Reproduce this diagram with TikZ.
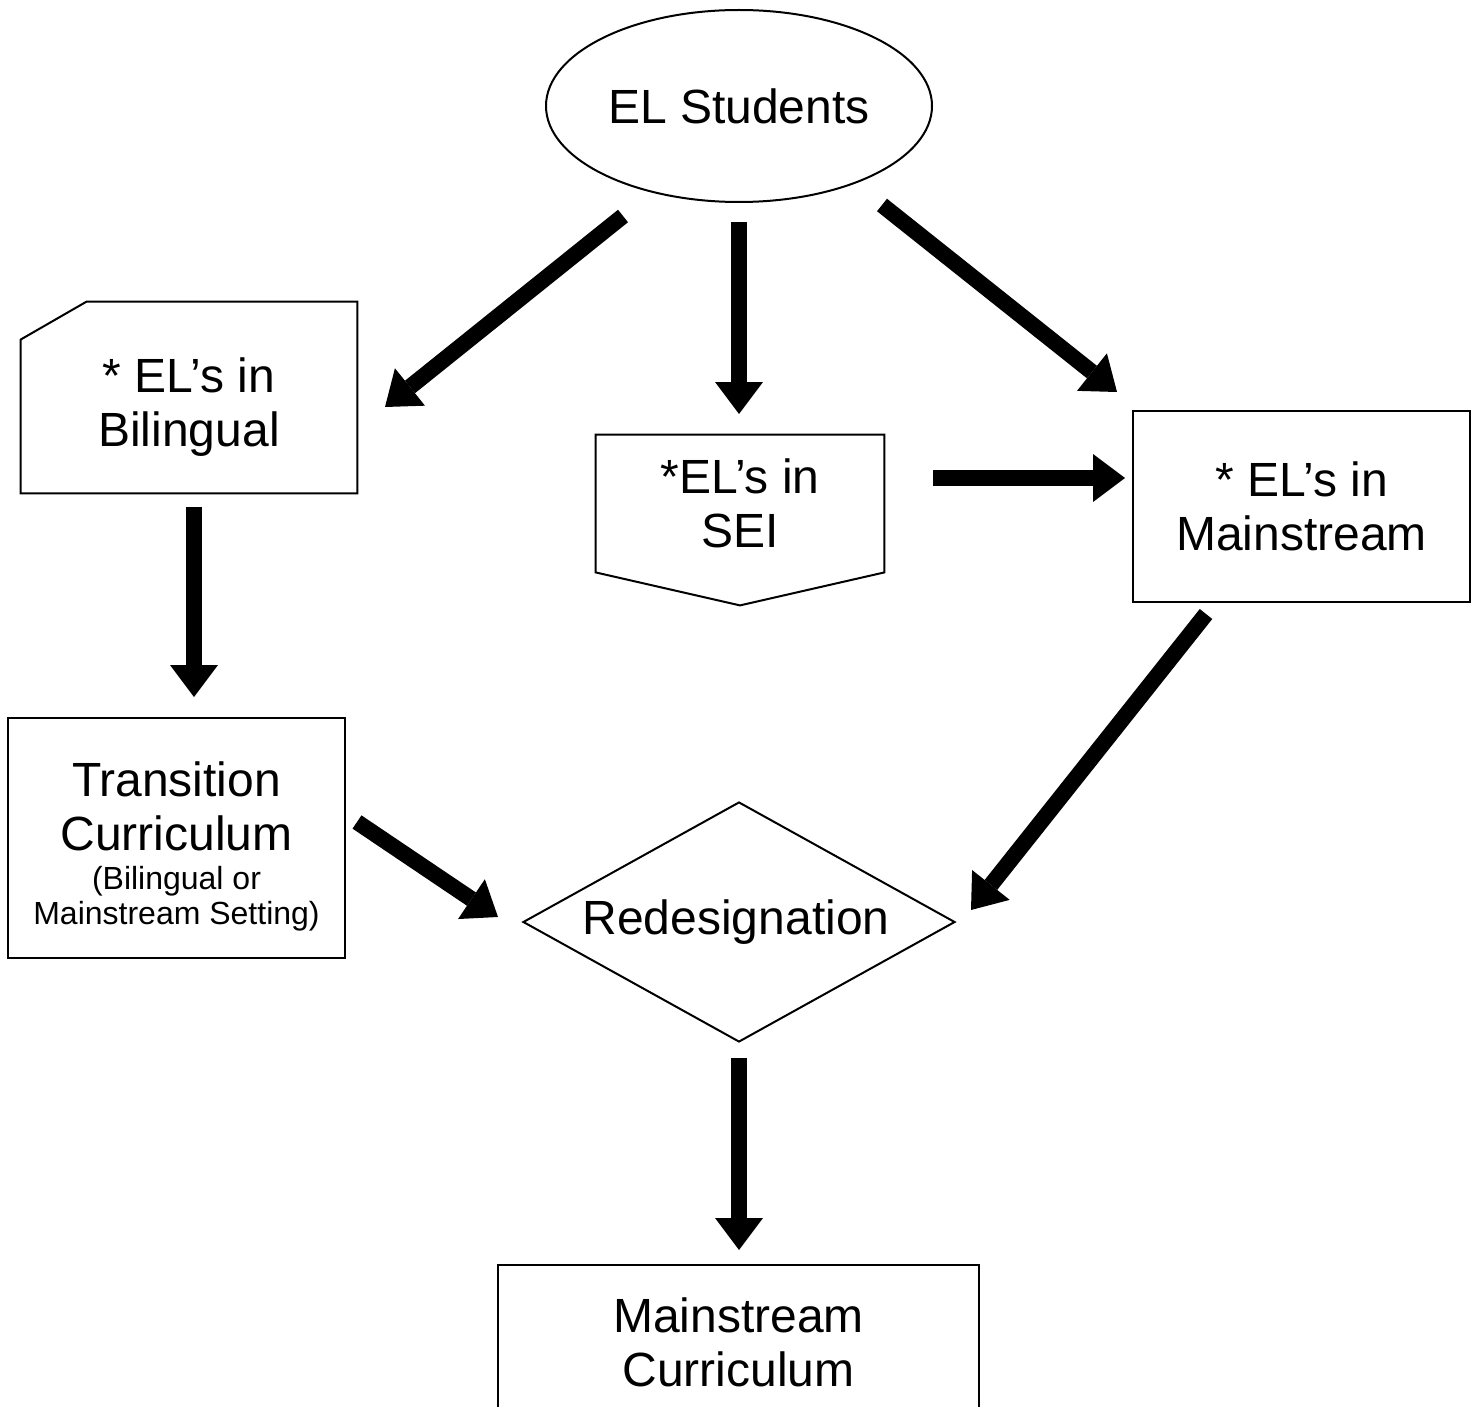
\documentclass[tikz,border=0pt]{standalone}
\usepackage{fontspec}
\setmainfont{Liberation Sans}
\usetikzlibrary{arrows.meta,shapes.geometric}
\begin{document}
\begin{tikzpicture}[x=0.5pt,y=-0.5pt,
  box/.style={draw, line width=1pt, inner sep=0pt, align=center, font=\fontsize{24}{27}\selectfont},
  txt/.style={inner sep=0pt, align=center, font=\fontsize{24}{27}\selectfont},
  smalltxt/.style={inner sep=0pt, align=center, font=\fontsize{16}{17.5}\selectfont},
  outline/.style={draw, line width=1pt, line join=miter},
  flow/.style={line width=8pt, -{Triangle[width=24pt,length=16pt,line width=0pt]}},
  ]
\fill[white] (0,0) rectangle (1477,1407);
\useasboundingbox (0,0) rectangle (1477,1407);

% shapes
\node[box, ellipse, minimum width=193pt, minimum height=96pt] (stud) at (739,106) {EL Students};

\node[inner sep=0pt, minimum width=168pt, minimum height=95.5pt] (bil) at (189,397.5) {};
\draw[outline] ([yshift=-19pt]bil.north west) -- ([xshift=33pt]bil.north west) -- (bil.north east)
  -- (bil.south east) -- (bil.south west) -- cycle;
\node[txt] (bilt) at (189,407) {* EL’s in\\Bilingual};

\node[txt, minimum width=144pt, minimum height=68.5pt] (sei) at (740,503.5) {*EL’s in\\SEI};
\draw[outline] (sei.north west) -- (sei.north east) -- (sei.south east)
  -- ([yshift=-16.5pt]sei.south) -- (sei.south west) -- cycle;

\node[box, minimum width=168.5pt, minimum height=95.5pt] (main) at (1301.5,506.5) {* EL’s in\\Mainstream};

\node[box, minimum width=168.5pt, minimum height=120pt] (trans) at (176.5,838) {};
\node[txt] (transt) at (176.5,806.5) {Transition\\Curriculum};
\node[smalltxt] (transn) at (176.5,899) {(Bilingual or\\Mainstream Setting)};

\node[box, diamond, minimum width=216pt, minimum height=120pt] (red) at (739,922)
  {\raisebox{-1.5pt}{\makebox[0pt]{Redesignation\hspace{3pt}}}};

\node[box, minimum width=240.5pt, minimum height=77pt] (mc) at (738.5,1342) {Mainstream\\Curriculum};

% connector ends
\coordinate (a1s) at (623,216);  \coordinate (a1e) at (385,407);
\coordinate (a2s) at (739,222);  \coordinate (a2e) at (739,414);
\coordinate (a3s) at (882,205);  \coordinate (a3e) at (1117,392);
\coordinate (a4s) at (933,478);  \coordinate (a4e) at (1125,478);
\coordinate (a5s) at (194,507);  \coordinate (a5e) at (194,697);
\coordinate (a6s) at (357,822);  \coordinate (a6e) at (498,917);
\coordinate (a7s) at (1206,614); \coordinate (a7e) at (971,910);
\coordinate (a8s) at (739,1058); \coordinate (a8e) at (739,1250);

\draw[flow] (a1s) -- (a1e);
\draw[flow] (a2s) -- (a2e);
\draw[flow] (a3s) -- (a3e);
\draw[flow] (a4s) -- (a4e);
\draw[flow] (a5s) -- (a5e);
\draw[flow] (a6s) -- (a6e);
\draw[flow] (a7s) -- (a7e);
\draw[flow] (a8s) -- (a8e);
\end{tikzpicture}
\end{document}
